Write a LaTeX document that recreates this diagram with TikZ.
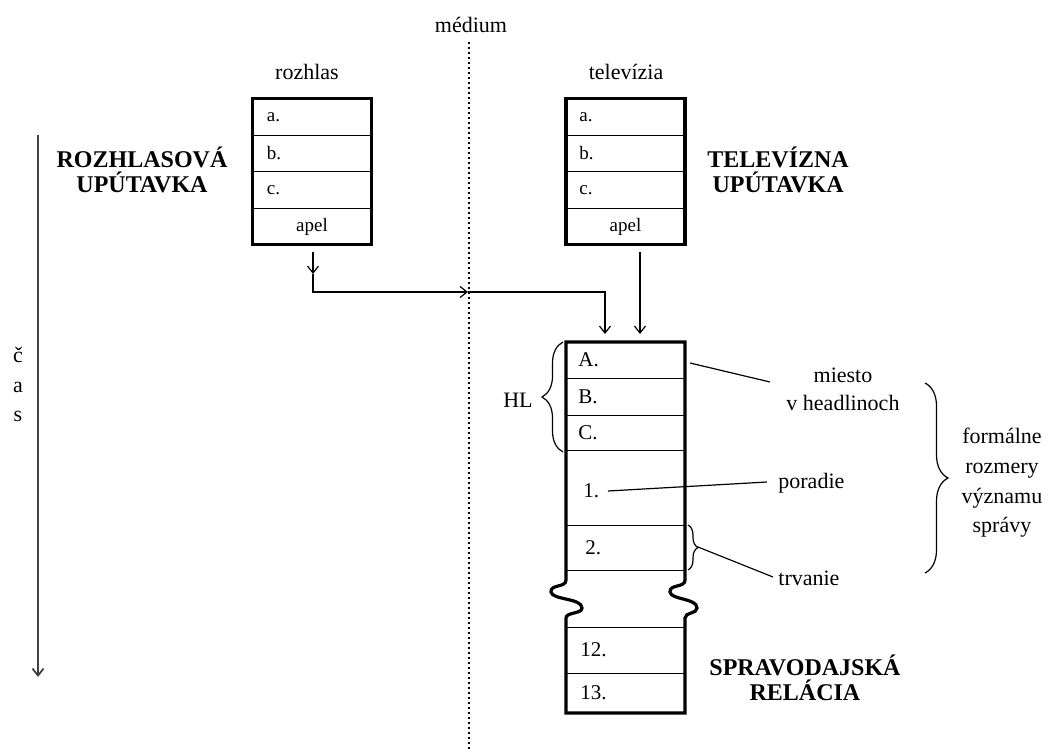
\documentclass[tikz,border=0pt]{standalone}
\usepackage{fontspec}
\setmainfont{Liberation Serif}
\usetikzlibrary{arrows.meta,decorations.pathreplacing}
\begin{document}
\begin{tikzpicture}[x=0.5pt,y=-0.5pt,
  lab/.style={font=\fontsize{11}{14}\selectfont, inner sep=0pt, align=center},
  small/.style={font=\fontsize{9.5}{11}\selectfont, inner sep=0pt, anchor=west},
  big/.style={font=\fontsize{10.5}{12}\selectfont, inner sep=0pt, anchor=west},
  head/.style={font=\bfseries\fontsize{12}{12.5}\selectfont, align=center, inner sep=0pt},
  row/.style={draw, line width=0.5pt, minimum width=59.5pt, inner sep=0pt, outer sep=0pt},
  frame/.style={line width=1.6pt, line join=miter},
  conn/.style={line width=0.6pt},
  arr/.style={conn, -{Straight Barb[length=3.5pt,width=5.5pt]}},
  brc/.style={line width=0.6pt, decorate},
  ]
\useasboundingbox (0,0) rectangle (1055,749);

% headings
\node[lab] (medium) at (471,25) {médium};
\node[lab] (rozhlas) at (307,72) {rozhlas};
\node[lab] (televizia) at (626,72) {televízia};

% medium divider
\coordinate (m1) at (469,42);
\coordinate (m2) at (469,749);
\draw[line width=1pt, dash pattern=on 1pt off 1.5pt] (m1) -- (m2);

% radio box
\node[row, minimum height=18.25pt] (ra) at (312,117) {};
\node[row, minimum height=18.25pt] (rb) at (312,153.5) {};
\node[row, minimum height=18.25pt] (rc) at (312,190) {};
\node[row, minimum height=18.25pt] (rd) at (312,226.5) {};
\draw[frame] (ra.north west) rectangle (rd.south east);
\node[small] (rat) at ([xshift=7pt]ra.west) {a.};
\node[small] (rbt) at ([xshift=7pt]rb.west) {b.};
\node[small] (rct) at ([xshift=7pt]rc.west) {c.};
\node[small, anchor=center] (rdt) at (rd.center) {apel};

% tv box
\node[row, minimum height=18.25pt] (ta) at (625.5,117) {};
\node[row, minimum height=18.25pt] (tb) at (625.5,153.5) {};
\node[row, minimum height=18.25pt] (tc) at (625.5,190) {};
\node[row, minimum height=18.25pt] (td) at (625.5,226.5) {};
\draw[frame] (ta.north west) rectangle (td.south east);
\node[small] (tat) at ([xshift=6.5pt]ta.west) {a.};
\node[small] (tbt) at ([xshift=6.5pt]tb.west) {b.};
\node[small] (tct) at ([xshift=6.5pt]tc.west) {c.};
\node[small, anchor=center] (tdt) at (td.center) {apel};

% bold titles
\node[head] (rtitle) at (142,170) {ROZHLASOVÁ\\UPÚTAVKA};
\node[head, anchor=west] (ttitle) at (707,170) {TELEVÍZNA\\UPÚTAVKA};
\node[head, anchor=west] (stitle) at (709,678) {SPRAVODAJSKÁ\\RELÁCIA};

% news box rows
\node[row, minimum height=18pt] (nA) at (625.5,360) {};
\node[row, minimum height=18.5pt] (nB) at (625.5,396.5) {};
\node[row, minimum height=17.5pt] (nC) at (625.5,432.5) {};
\node[row, minimum height=37.5pt] (n1) at (625.5,487.5) {};
\node[row, minimum height=22.5pt] (n2) at (625.5,547.5) {};
\node[row, minimum height=23pt] (n12) at (625.5,650) {};
\node[row, minimum height=20pt] (n13) at (625.5,693) {};
\draw[frame] (nA.north west) -- (nA.north east) -- (685,580)
  .. controls (685,588) and (669,584) .. (670,592)
  .. controls (671,600) and (697,598) .. (697,608)
  .. controls (697,614) and (685,612) .. (685,618)
  -- (n13.south east) -- (n13.south west) -- (566,618)
  .. controls (566,612) and (582,614) .. (582,608)
  .. controls (582,598) and (552,600) .. (551,592)
  .. controls (550,584) and (566,588) .. (566,580) -- cycle;
\node[big] (nAt) at ([xshift=6pt]nA.west) {A.};
\node[big] (nBt) at ([xshift=6pt]nB.west) {B.};
\node[big] (nCt) at ([xshift=6pt]nC.west) {C.};
\node[big] (n1t) at ([xshift=8.5pt,yshift=-1.5pt]n1.west) {1.};
\node[big] (n2t) at ([xshift=9.5pt]n2.west) {2.};
\node[big] (n12t) at ([xshift=7pt]n12.west) {12.};
\node[big] (n13t) at ([xshift=7pt]n13.west) {13.};

% connectors from boxes
\coordinate (a1) at (313,252);
\coordinate (a2) at (313,274);
\coordinate (a3) at (313,292);
\coordinate (a4) at (468,292);
\coordinate (a5) at (605,292);
\coordinate (a6) at (605,334);
\coordinate (b1) at (640,252);
\coordinate (b2) at (640,334);
\draw[arr] (a1) -- (a2);
\draw[arr] (a2) -- (a3) -- (a4);
\draw[arr] (a4) -- (a5) -- (a6);
\draw[arr] (b1) -- (b2);

% time axis
\coordinate (t1) at (38,135);
\coordinate (t2) at (38,677);
\draw[arr, black!75, line width=0.9pt] (t1) -- (t2);
\node[lab] (cc) at (18,355) {č};
\node[lab] (ca) at (18,387) {a};
\node[lab] (cs) at (18,416) {s};

% HL brace
\coordinate (h1) at (563,452);
\coordinate (h2) at (563,342);
\draw[brc, decoration={brace, amplitude=10.5pt}] (h1) -- (h2);
\node[lab] (hl) at (518,400) {HL};

% right annotations
\node[lab] (miesto) at (843,389) {miesto\\v headlinoch};
\coordinate (l1) at (690,363);
\coordinate (l2) at (770,382);
\draw[conn] (l1) -- (l2);

\node[lab, anchor=west] (poradie) at (778,483) {poradie};
\coordinate (p1) at (608,491);
\coordinate (p2) at (767,482);
\draw[conn] (p1) -- (p2);

\coordinate (s1) at (688,525);
\coordinate (s2) at (688,570);
\draw[brc, decoration={brace, amplitude=5pt}] (s1) -- (s2);
\node[lab, anchor=west] (trvanie) at (778,578) {trvanie};
\coordinate (s3) at (698,547);
\coordinate (s4) at (773,577);
\draw[conn] (s3) -- (s4);

\coordinate (f1) at (925,383);
\coordinate (f2) at (925,573);
\draw[brc, decoration={brace, amplitude=11.5pt}] (f1) -- (f2);
\node[lab, font=\fontsize{11}{14.8}\selectfont] (formal) at (1002,483) {formálne\\rozmery\\významu\\správy};
\end{tikzpicture}
\end{document}
